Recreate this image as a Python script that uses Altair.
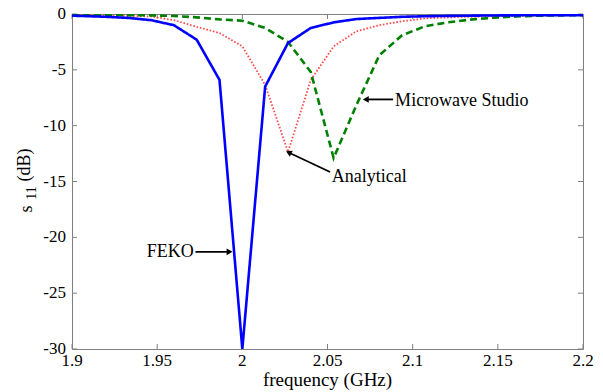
import altair as alt
import pandas as pd

# ---- data ----
freq = [1.900, 1.9062, 1.9196, 1.9330, 1.9464, 1.9598, 1.9732, 1.9866, 2.000,
        2.0134, 2.0268, 2.0402, 2.0536, 2.0670, 2.0804, 2.0938, 2.1072, 2.1206,
        2.1340, 2.1474, 2.1608, 2.1742, 2.1876, 2.200]
feko = [-0.15, -0.18, -0.25, -0.35, -0.55, -1.0, -2.3, -5.9, -30.0,
        -6.5, -2.6, -1.25, -0.75, -0.45, -0.35, -0.25, -0.2, -0.17,
        -0.15, -0.13, -0.12, -0.11, -0.1, -0.1]
analytical = [-0.1, -0.11, -0.13, -0.16, -0.22, -0.55, -1.15, -1.7, -2.9,
              -6.35, -12.35, -5.9, -2.9, -1.55, -1.0, -0.65, -0.4, -0.3,
              -0.25, -0.2, -0.17, -0.15, -0.12, -0.1]
mws = [-0.05, -0.06, -0.08, -0.1, -0.12, -0.18, -0.3, -0.48, -0.6,
       -1.25, -2.5, -5.2, -12.9, -8.15, -3.7, -1.9, -1.1, -0.75,
       -0.5, -0.33, -0.22, -0.15, -0.12, -0.1]

x_ticks = [1.9, 1.95, 2.0, 2.05, 2.1, 2.15, 2.2]
x_tick_labels = ["1.9", "1.95", "2", "2.05", "2.1", "2.15", "2.2"]
y_ticks = [-30, -25, -20, -15, -10, -5, 0]
y_tick_labels = ["-30", "-25", "-20", "-15", "-10", "-5", "0"]

# annotations: label, text position, arrow tail, arrow tip, arrowhead angle
ann_labels = ["Microwave Studio", "Analytical", "FEKO"]
ann_text_f = [2.0897, 2.0525, 1.9715]
ann_text_db = [-7.75, -14.6, -21.3]
ann_tail_f = [2.0885, 2.0515, 1.9725]
ann_tail_db = [-7.65, -14.15, -21.3]
ann_tip_f = [2.0725, 2.0272, 1.9925]
ann_tip_db = [-7.65, -12.4, -21.3]
ann_angle = [0, 25.5, 180]

y_title_parts = ["s", "11", "(dB)"]
x_title = ["frequency (GHz)"]

FONT = "Liberation Serif"
W, H = 511, 335

x_scale = alt.Scale(domain=[1.9, 2.2], nice=False, zero=False)
y_scale = alt.Scale(domain=[-30, 0], nice=False, zero=False)

X = alt.X("f:Q", scale=x_scale, axis=None)
Y = alt.Y("s11:Q", scale=y_scale, axis=None)


def series_layer(vals, color, width, dash):
    d = pd.DataFrame({"f": freq, "s11": vals})
    return alt.Chart(d).mark_line(clip=True, color=color, strokeWidth=width,
                                  strokeDash=dash, strokeJoin="miter").encode(
        x=X, y=Y, order=alt.Order("f:Q"))


line_mws = series_layer(mws, "#008000", 2.6, [7, 4])
line_an = series_layer(analytical, "#ff4a4a", 1.8, [1.6, 1.8])
line_feko = series_layer(feko, "#0000ff", 2.6, [1, 0])

xt = pd.DataFrame({"f": x_ticks, "lab": x_tick_labels})
yt = pd.DataFrame({"s11": y_ticks, "lab": y_tick_labels})
TICK = "#808080"
tick_b = alt.Chart(xt).mark_rule(color=TICK).encode(x=X, y=alt.value(H), y2=alt.value(H - 5))
tick_t = alt.Chart(xt).mark_rule(color=TICK).encode(x=X, y=alt.value(0), y2=alt.value(5))
tick_l = alt.Chart(yt).mark_rule(color=TICK).encode(y=Y, x=alt.value(0), x2=alt.value(5))
tick_r = alt.Chart(yt).mark_rule(color=TICK).encode(y=Y, x=alt.value(W), x2=alt.value(W - 5))

xlab = alt.Chart(xt).mark_text(font=FONT, fontSize=17, color="black", align="center",
                               baseline="top").encode(
    x=X, y=alt.value(H + 4), text="lab:N")
ylab = alt.Chart(yt).mark_text(font=FONT, fontSize=17, color="black", align="right",
                               baseline="middle").encode(
    y=Y, x=alt.value(-6), text="lab:N")
xtitle = alt.Chart(pd.DataFrame({"t": x_title})).mark_text(
    font=FONT, fontSize=19, color="black", align="center", baseline="alphabetic").encode(
    x=alt.value(W / 2), y=alt.value(H + 37), text="t:N")

ann = pd.DataFrame({
    "label": ann_labels, "tf": ann_text_f, "tdb": ann_text_db,
    "f": ann_tail_f, "s11": ann_tail_db, "f2": ann_tip_f, "s2": ann_tip_db,
    "angle": ann_angle,
})

arrows = alt.Chart(ann).mark_rule(color="black", strokeWidth=1.8).encode(
    x=X, y=Y, x2="f2:Q", y2="s2:Q")
heads = alt.Chart(ann).mark_point(shape="triangle-left", filled=True, color="black",
                                  opacity=1, size=45).encode(
    x=alt.X("f2:Q", scale=x_scale, axis=None),
    y=alt.Y("s2:Q", scale=y_scale, axis=None),
    angle=alt.Angle("angle:Q", scale=None))

text_left = alt.Chart(ann).transform_filter("datum.label != 'FEKO'").mark_text(
    align="left", baseline="middle", font=FONT, fontSize=18, color="black").encode(
    x=alt.X("tf:Q", scale=x_scale, axis=None),
    y=alt.Y("tdb:Q", scale=y_scale, axis=None), text="label:N")
text_right = alt.Chart(ann).transform_filter("datum.label == 'FEKO'").mark_text(
    align="right", baseline="middle", font=FONT, fontSize=18, color="black").encode(
    x=alt.X("tf:Q", scale=x_scale, axis=None),
    y=alt.Y("tdb:Q", scale=y_scale, axis=None), text="label:N")

yt_df = pd.DataFrame({"t": y_title_parts})
yt_s = alt.Chart(yt_df).transform_filter("datum.t == 's'").mark_text(
    angle=270, align="center", baseline="middle", font=FONT, fontSize=18, color="black").encode(
    x=alt.value(-45), y=alt.value(195), text="t:N")
yt_11 = alt.Chart(yt_df).transform_filter("datum.t == '11'").mark_text(
    angle=270, align="center", baseline="middle", font=FONT, fontSize=14, color="black").encode(
    x=alt.value(-40), y=alt.value(179), text="t:N")
yt_db = alt.Chart(yt_df).transform_filter("datum.t == '(dB)'").mark_text(
    angle=270, align="center", baseline="middle", font=FONT, fontSize=18, color="black").encode(
    x=alt.value(-47), y=alt.value(151), text="t:N")

chart = alt.layer(
    tick_b, tick_t, tick_l, tick_r, line_an, line_mws, line_feko,
    arrows, heads, text_left, text_right, xlab, ylab, xtitle, yt_s, yt_11, yt_db
).properties(
    width=W, height=H,
    background="white",
    autosize=alt.AutoSizeParams(type="none"),
    padding={"left": 64, "top": 6, "right": 12, "bottom": 42},
).configure_view(stroke="#808080", strokeWidth=1)

chart.save("out.html", embed_options={"renderer": "svg", "actions": False})
